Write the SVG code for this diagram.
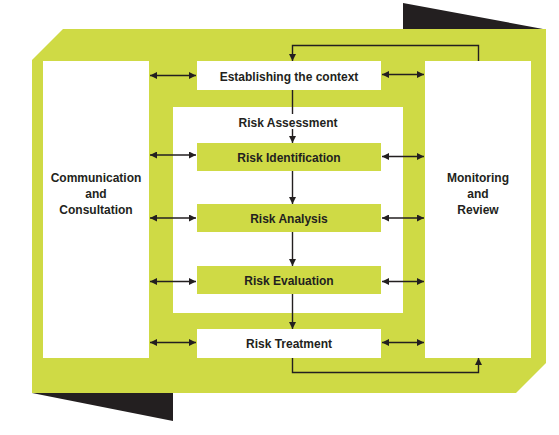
<svg xmlns="http://www.w3.org/2000/svg" width="559" height="435" viewBox="0 0 559 435">
<defs>
<marker id="ah" viewBox="0 0 10 10" refX="10" refY="5" markerWidth="7" markerHeight="7" markerUnits="userSpaceOnUse" orient="auto-start-reverse">
<path d="M0,0 L10,5 L0,10 z" fill="#231f20"/>
</marker>
<style>
.g{fill:#cfda45}
.w{fill:#ffffff}
.k{fill:#231f20}
.t{font-family:"Liberation Sans",Arial,sans-serif;font-weight:bold;font-size:12px;fill:#231f20;text-anchor:middle}
.c{stroke:#231f20;stroke-width:1.4;fill:none}
</style>
</defs>
<rect width="559" height="435" fill="#ffffff"/>
<g id="frame">
<polygon class="k" points="403,3 403,29 543,29"/>
<polygon class="k" points="32,393 173,393 173,421"/>
<polygon class="g" points="63,29 546,29 546,363 516,393 32,393 32,60"/>
</g>
<g id="communication">
<rect class="w" x="43" y="61" width="106" height="297"/>
<text class="t" x="96" y="182">Communication</text>
<text class="t" x="96" y="198">and</text>
<text class="t" x="96" y="214">Consultation</text>
</g>
<g id="monitoring">
<rect class="w" x="425" y="61" width="106" height="297"/>
<text class="t" x="478" y="182">Monitoring</text>
<text class="t" x="478" y="198">and</text>
<text class="t" x="478" y="214">Review</text>
</g>
<g id="context">
<rect class="w" x="197" y="61" width="184" height="29"/>
<text class="t" x="289" y="81">Establishing the context</text>
</g>
<g id="assessment">
<rect class="w" x="173" y="107" width="230" height="206"/>
<text class="t" x="288" y="127">Risk Assessment</text>
</g>
<g id="identification">
<rect class="g" x="197" y="143" width="184" height="28"/>
<text class="t" x="289" y="162">Risk Identification</text>
</g>
<g id="analysis">
<rect class="g" x="197" y="204" width="184" height="28"/>
<text class="t" x="289" y="223">Risk Analysis</text>
</g>
<g id="evaluation">
<rect class="g" x="197" y="266" width="184" height="28"/>
<text class="t" x="289" y="285">Risk Evaluation</text>
</g>
<g id="treatment">
<rect class="w" x="197" y="329" width="184" height="29"/>
<text class="t" x="289" y="348">Risk Treatment</text>
</g>
<g id="connectors">
<line class="c" x1="150" y1="75.5" x2="196" y2="75.5" marker-start="url(#ah)" marker-end="url(#ah)"/>
<line class="c" x1="150" y1="155" x2="196" y2="155" marker-start="url(#ah)" marker-end="url(#ah)"/>
<line class="c" x1="150" y1="218" x2="196" y2="218" marker-start="url(#ah)" marker-end="url(#ah)"/>
<line class="c" x1="150" y1="281.5" x2="196" y2="281.5" marker-start="url(#ah)" marker-end="url(#ah)"/>
<line class="c" x1="150" y1="342.5" x2="196" y2="342.5" marker-start="url(#ah)" marker-end="url(#ah)"/>
<line class="c" x1="382" y1="74.5" x2="424" y2="74.5" marker-start="url(#ah)" marker-end="url(#ah)"/>
<line class="c" x1="382" y1="156.5" x2="424" y2="156.5" marker-start="url(#ah)" marker-end="url(#ah)"/>
<line class="c" x1="382" y1="218" x2="424" y2="218" marker-start="url(#ah)" marker-end="url(#ah)"/>
<line class="c" x1="382" y1="281.5" x2="424" y2="281.5" marker-start="url(#ah)" marker-end="url(#ah)"/>
<line class="c" x1="382" y1="342.5" x2="424" y2="342.5" marker-start="url(#ah)" marker-end="url(#ah)"/>
<line class="c" x1="292.5" y1="90" x2="292.5" y2="114"/>
<line class="c" x1="292.5" y1="129" x2="292.5" y2="143" marker-end="url(#ah)"/>
<line class="c" x1="292.5" y1="171" x2="292.5" y2="204" marker-end="url(#ah)"/>
<line class="c" x1="292.5" y1="232" x2="292.5" y2="266" marker-end="url(#ah)"/>
<line class="c" x1="292.5" y1="294" x2="292.5" y2="329" marker-end="url(#ah)"/>
<polyline class="c" points="478.5,61 478.5,45.5 292.5,45.5 292.5,61" marker-end="url(#ah)"/>
<polyline class="c" points="292.5,358 292.5,372.5 478.5,372.5 478.5,358" marker-end="url(#ah)"/>
</g>
</svg>
